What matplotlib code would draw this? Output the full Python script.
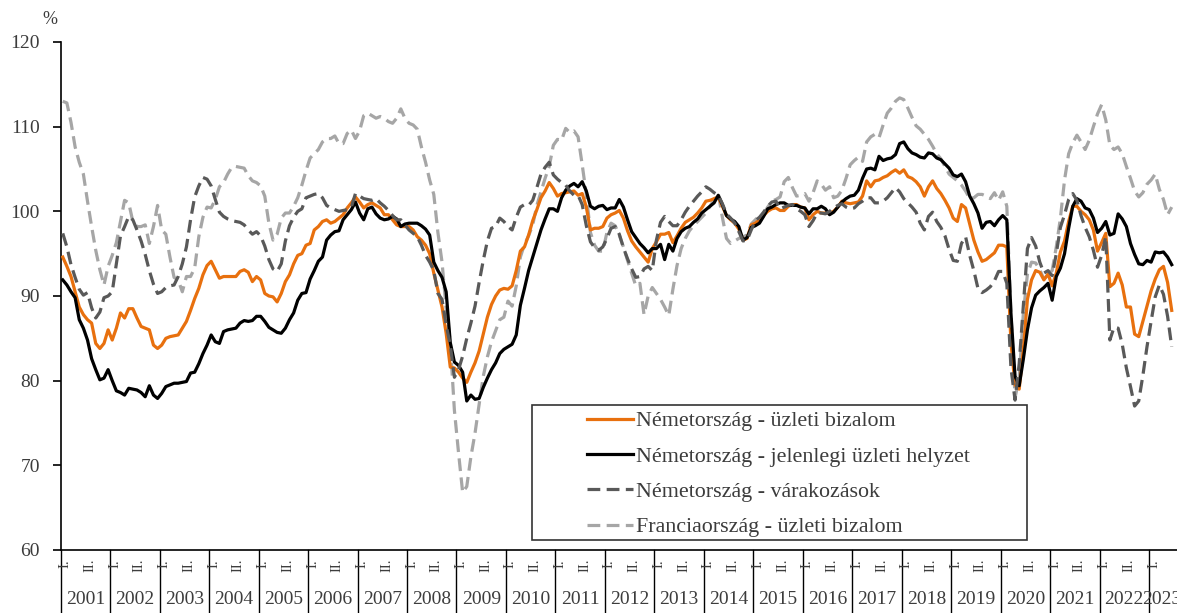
import numpy as np
import matplotlib
matplotlib.use("Agg")
import matplotlib.pyplot as plt
import matplotlib.transforms as mtransforms
from matplotlib.patches import Rectangle

# ---------------- data (monthly, Jan 2001 - Jun 2023) ----------------
years = list(range(2001, 2024))
half_labels = ["I.", "II."]
series_names = ["Németország - üzleti bizalom",
                "Németország - jelenlegi üzleti helyzet",
                "Németország - várakozások",
                "Franciaország - üzleti bizalom"]

de_climate = [
    94.6, 93.5, 92.3, 90.5, 88.7, 87.8, 87.2, 86.8, 84.4, 83.8, 84.4, 86.0,
    84.8, 86.2, 88.0, 87.4, 88.5, 88.5, 87.4, 86.4, 86.2, 86.0, 84.2, 83.8,
    84.2, 85.0, 85.2, 85.3, 85.4, 86.2, 87.0, 88.3, 89.7, 90.9, 92.5, 93.6,
    94.1, 93.1, 92.1, 92.3, 92.3, 92.3, 92.3, 92.9, 93.1, 92.8, 91.7, 92.3,
    91.9, 90.3, 90.0, 89.9, 89.3, 90.3, 91.7, 92.5, 93.8, 94.8, 95.0, 96.0,
    96.2, 97.8, 98.2, 98.8, 99.0, 98.6, 98.8, 99.2, 99.6, 100.4, 101.0, 101.7,
    101.1, 100.4, 100.8, 101.0, 100.7, 100.4, 99.6, 99.6, 99.0, 98.4, 98.2, 98.2,
    98.2, 97.8, 97.0, 96.6, 96.0, 95.0, 92.7, 90.7, 88.7, 85.6, 81.6, 81.5,
    81.0, 80.3, 79.8, 81.0, 82.1, 83.5, 85.5, 87.5, 89.0, 90.0, 90.7, 90.9,
    90.8, 91.2, 93.0, 95.3, 95.8, 97.2, 98.9, 100.2, 101.6, 102.4, 103.4, 102.7,
    101.8, 102.1, 102.2, 102.3, 102.4, 101.9, 102.1, 100.5, 97.8, 98.0, 98.0, 98.2,
    99.2, 99.6, 99.8, 100.1, 99.2, 97.7, 96.5, 95.8, 95.2, 94.6, 94.0, 95.6,
    96.4, 97.3, 97.3, 97.5, 96.3, 97.1, 98.0, 98.7, 99.0, 99.3, 99.8, 100.4,
    101.2, 101.3, 101.5, 101.7, 100.6, 99.5, 99.0, 98.6, 97.9, 96.6, 96.8, 98.4,
    98.6, 99.0, 99.5, 100.0, 100.3, 100.4, 100.1, 100.1, 100.6, 100.8, 100.8, 100.5,
    100.4, 99.0, 99.6, 100.0, 99.8, 99.8, 99.8, 100.0, 100.5, 101.2, 101.0, 100.9,
    101.0, 101.1, 101.8, 103.6, 102.9, 103.6, 103.7, 104.0, 104.2, 104.6, 104.9, 104.5,
    104.9, 104.1, 103.9, 103.5, 102.9, 101.8, 102.9, 103.6, 102.7, 102.1, 101.3, 100.4,
    99.2, 98.8, 100.8, 100.4, 98.5, 96.6, 95.2, 94.1, 94.3, 94.7, 95.1, 96.0,
    96.0, 95.8, 84.5, 79.5, 79.0, 83.6, 89.6, 91.9, 93.0, 92.8, 91.9, 92.6,
    91.2, 92.7, 95.2, 96.5, 98.8, 100.6, 100.6, 100.0, 99.6, 99.0, 97.8, 95.3,
    96.3, 97.4, 91.1, 91.5, 92.7, 91.3, 88.7, 88.7, 85.5, 85.2, 87.0, 88.8,
    90.6, 92.0, 93.1, 93.5, 91.6, 88.3,
]

de_current = [
    91.9, 91.3, 90.5, 89.8, 87.2, 86.2, 84.8, 82.6, 81.3, 80.1, 80.3, 81.3,
    80.0, 78.8, 78.6, 78.3, 79.1, 79.0, 78.9, 78.6, 78.1, 79.4, 78.3, 77.9,
    78.5, 79.3, 79.5, 79.7, 79.7, 79.8, 79.9, 80.9, 81.0, 82.0, 83.2, 84.2,
    85.4, 84.6, 84.4, 85.8, 86.0, 86.1, 86.2, 86.8, 87.1, 87.0, 87.1, 87.6,
    87.6, 87.0, 86.3, 86.0, 85.7, 85.6, 86.2, 87.2, 88.0, 89.5, 90.3, 90.4,
    92.0, 93.0, 94.1, 94.6, 96.6, 97.2, 97.6, 97.7, 99.0, 99.6, 100.2, 101.1,
    99.8, 99.0, 100.3, 100.5, 99.7, 99.2, 99.0, 99.1, 99.4, 99.1, 98.2, 98.5,
    98.6, 98.6, 98.6, 98.3, 97.9, 97.2, 94.0, 93.0, 92.2, 90.5, 84.5, 82.2,
    81.8, 81.0, 77.6, 78.3, 77.8, 77.9, 79.2, 80.3, 81.3, 82.1, 83.2, 83.7,
    84.0, 84.3, 85.4, 88.9, 90.9, 93.0, 94.6, 96.2, 97.8, 99.1, 100.3, 100.3,
    100.0, 101.6, 102.5, 103.0, 103.3, 102.9, 103.5, 102.4, 100.6, 100.3, 100.6, 100.7,
    100.2, 100.4, 100.4, 101.4, 100.5, 99.0, 97.6, 96.9, 96.2, 95.7, 95.1, 95.6,
    95.6, 96.1, 94.3, 96.1, 95.3, 96.8, 97.6, 98.0, 98.2, 98.7, 99.1, 99.8,
    100.2, 100.6, 101.0, 101.9, 100.8, 99.5, 99.1, 98.8, 98.2, 96.6, 96.9, 98.1,
    98.3, 98.6, 99.4, 100.3, 100.5, 100.8, 101.0, 101.0, 100.7, 100.7, 100.7, 100.5,
    100.4, 99.7, 100.3, 100.3, 100.6, 100.3, 99.6, 99.9, 100.5, 101.1, 101.5, 101.8,
    101.9, 102.5, 103.9, 105.0, 105.1, 104.9, 106.5, 106.0, 106.2, 106.3, 106.7, 108.0,
    108.2, 107.4, 106.9, 106.7, 106.4, 106.3, 106.9, 106.8, 106.3, 106.1, 105.6, 105.1,
    104.3, 104.1, 104.4, 103.5, 101.8, 100.9, 99.8, 98.0, 98.7, 98.8, 98.3, 99.0,
    99.5, 99.0, 88.0, 80.5, 79.4, 82.5, 86.0, 88.6, 90.1, 90.6, 91.0, 91.5,
    89.5, 92.3, 93.3, 95.0, 98.0, 100.6, 101.5, 101.2, 100.4, 100.2, 99.2, 97.5,
    98.0, 98.8, 97.2, 97.4, 99.7, 99.1, 98.2, 96.2, 94.9, 93.8, 93.7, 94.2,
    94.0, 95.2, 95.1, 95.2, 94.6, 93.7,
]

de_expect = [
    97.4, 95.8, 93.7, 92.2, 90.8, 90.1, 90.4, 88.6, 87.4, 88.1, 89.8, 90.0,
    90.5, 93.8, 97.1, 98.2, 99.4, 99.0, 97.8, 96.5, 94.9, 93.0, 91.4, 90.3,
    90.5, 91.0, 91.2, 91.3, 92.3, 93.8, 95.8, 99.0, 101.7, 103.0, 104.0, 103.8,
    103.0, 101.4, 99.9, 99.4, 99.1, 98.9, 98.8, 98.7, 98.4, 97.8, 97.3, 97.6,
    97.1, 95.9, 94.3, 93.2, 92.9, 93.8, 96.5, 98.3, 99.3, 100.0, 100.3, 101.6,
    101.8, 102.0, 102.1, 101.6, 100.7, 100.4, 100.2, 100.0, 100.1, 100.2, 100.5, 102.1,
    101.8, 101.5, 101.4, 101.3, 101.5, 101.0, 100.6, 100.1, 99.5, 99.0, 99.0, 98.4,
    97.8, 97.4, 97.0, 96.0, 94.8, 94.0, 93.0, 90.3, 89.6, 86.6, 84.2, 80.4,
    81.3, 82.9, 85.0, 86.8, 88.8, 91.6, 94.2, 96.5, 98.0, 98.2, 99.2, 98.8,
    98.2, 97.8, 99.3, 100.5, 100.8, 100.7, 101.3, 102.8, 104.4, 105.2, 105.8, 104.3,
    103.8, 103.4, 103.1, 102.4, 101.9, 101.9, 100.8, 98.3, 96.4, 95.7, 95.4, 95.8,
    96.8, 98.0, 98.2, 97.3, 95.7, 94.4, 93.2, 92.2, 92.3, 93.2, 93.5, 93.0,
    96.6, 98.7, 99.4, 98.8, 98.3, 98.3, 99.0, 99.9, 100.6, 101.2, 101.8, 102.3,
    102.9, 102.6, 102.2, 101.9, 100.9, 99.7, 99.2, 98.6, 97.6, 96.5, 96.6, 97.8,
    98.9, 99.3, 99.9, 100.6, 101.1, 101.2, 100.3, 100.5, 100.7, 100.8, 100.3, 100.0,
    99.6, 98.2, 98.9, 99.8, 99.8, 99.7, 100.0, 100.4, 100.7, 100.9, 100.5, 100.3,
    100.4, 100.9, 101.2, 101.6, 101.6, 101.0, 101.0, 101.2, 101.6, 102.2, 102.8, 102.3,
    101.5, 101.0, 100.5, 99.9, 98.6, 97.8, 99.4, 99.9, 98.8, 98.1, 97.1, 95.5,
    94.2, 94.1, 96.2, 97.0, 94.8, 93.0, 90.9, 90.4, 90.7, 91.1, 91.8, 92.9,
    92.9, 91.5, 81.5, 77.7, 82.0, 88.8, 95.6, 96.9, 95.9, 94.0, 92.7, 93.0,
    92.4, 95.0, 98.1, 99.6, 101.4, 102.1, 101.3, 99.5, 98.1, 97.0, 95.4, 93.4,
    94.8, 97.0, 84.8, 86.3, 86.2, 84.3, 81.5, 79.3, 77.0, 77.6, 80.6, 84.0,
    87.0, 89.9, 91.3, 90.2, 87.6, 84.0,
]

fr_climate = [
    113.0, 112.8, 110.5, 107.6, 105.8, 104.4, 101.2, 98.2, 95.4, 93.1, 91.3, 93.5,
    94.8, 96.3, 98.8, 101.3, 101.0, 98.8, 98.2, 98.2, 98.4, 96.2, 98.2, 100.7,
    97.8, 97.3, 94.6, 92.2, 91.9, 90.5, 92.3, 92.3, 93.3, 97.0, 99.3, 100.5,
    100.4, 101.4, 102.9, 103.4, 104.4, 105.2, 105.3, 105.2, 105.1, 104.2, 103.6, 103.4,
    103.0, 101.8, 98.6, 96.6, 97.3, 99.2, 99.8, 99.8, 100.6, 101.6, 103.1, 104.8,
    106.3, 106.8, 107.3, 108.2, 108.6, 108.6, 108.9, 108.0, 108.0, 109.2, 109.6, 108.6,
    109.5, 111.3, 111.6, 111.3, 111.0, 111.2, 111.0, 110.6, 110.4, 111.0, 112.1, 111.0,
    110.4, 110.2, 109.7, 107.6, 105.8, 103.7, 102.0, 97.5, 94.0, 88.5, 84.5, 76.5,
    71.5, 66.8, 67.5, 71.0, 73.8, 77.2, 80.5, 82.8, 84.6, 85.9, 87.2, 87.5,
    89.4, 88.8, 91.2, 94.6, 96.1, 97.1, 98.4, 100.7, 102.3, 103.9, 105.3, 107.8,
    108.5, 108.4, 109.8, 109.3, 109.5, 108.8, 105.5, 102.0, 97.5, 96.0, 95.3, 95.3,
    97.5, 98.6, 98.3, 97.2, 95.8, 94.2, 92.7, 91.2, 91.5, 87.8, 90.0, 91.0,
    90.3, 89.6, 88.7, 87.7, 90.8, 93.6, 95.6, 96.8, 97.7, 98.3, 98.8, 99.3,
    99.8, 100.6, 101.4, 102.1, 99.3, 96.8, 96.2, 96.5, 96.8, 97.0, 97.2, 98.5,
    99.0, 99.5, 99.7, 100.5, 101.2, 101.4, 101.7, 103.5, 104.0, 102.8, 101.8, 101.9,
    102.1, 101.2, 102.2, 103.6, 103.2, 102.5, 102.9, 101.6, 101.8, 102.5, 103.9, 105.5,
    106.0, 106.4, 105.9, 108.2, 108.8, 109.1, 108.7, 110.2, 111.6, 112.2, 113.0, 113.4,
    113.2, 112.2, 111.1, 110.1, 109.7, 109.1, 108.5, 107.7, 106.8, 106.2, 105.3, 104.4,
    104.0, 103.6, 103.1, 102.4, 101.5, 101.6, 102.0, 102.0, 101.8, 101.5, 102.2, 101.3,
    102.3, 100.6, 88.0, 78.0, 80.3, 87.9, 92.6, 94.0, 93.9, 93.1, 92.0, 92.5,
    93.0, 95.8, 99.2, 103.7, 106.8, 108.1, 109.0, 108.2, 107.3, 108.4, 110.0, 111.5,
    112.6, 110.8, 107.8, 107.3, 107.6, 106.8, 105.3, 103.9, 102.4, 101.7, 102.2, 103.2,
    103.7, 104.4, 102.6, 101.4, 99.6, 100.5,
]

# ---------------- figure ----------------
plt.rcParams['font.family'] = ['Liberation Serif', 'DejaVu Serif']
TXT = '#3c3c3c'

W, H = 1177, 613
fig = plt.figure(figsize=(W / 100, H / 100), dpi=100)
L_PX, B_PX, T_PX = 60.7, 550, 42
ax = fig.add_axes([L_PX / W, (H - B_PX) / H, 1 - L_PX / W, (B_PX - T_PX) / H])

N = len(de_climate)
x = np.arange(N) + 0.5
px_per_month = 4.1225
ax.set_xlim(0, (W - L_PX) / px_per_month)
ax.set_ylim(60, 120)

lw = 2.3
ax.plot(x, de_climate, color='#E8700E', lw=lw, solid_joinstyle='round', label=series_names[0], zorder=3)
ax.plot(x, de_current, color='#000000', lw=lw, solid_joinstyle='round', label=series_names[1], zorder=4)
ax.plot(x, de_expect, color='#595959', lw=lw, dashes=(4, 2), dash_capstyle='butt', label=series_names[2], zorder=5)
ax.plot(x, fr_climate, color='#A6A6A6', lw=lw, dashes=(4, 2), dash_capstyle='butt', label=series_names[3], zorder=2)

for s in ['top', 'right']:
    ax.spines[s].set_visible(False)
for s in ['left', 'bottom']:
    ax.spines[s].set_color('black')
    ax.spines[s].set_linewidth(1.2)

ax.set_yticks(range(60, 121, 10))
ax.tick_params(axis='y', direction='out', length=6, width=1.2, labelsize=14,
               labelcolor=TXT, pad=9)
ax.set_xticks([])

# x-axis: year separators, year labels and half-year labels
trans = mtransforms.blended_transform_factory(ax.transData, ax.transAxes)
plot_h = B_PX - T_PX
for k, yr in enumerate(years):
    xs = 12 * k
    ax.plot([xs, xs], [0, -(H - B_PX) / plot_h], transform=trans, color='black',
            lw=1.0, clip_on=False)
    n_months = min(12, N - xs)
    ax.text(xs + n_months / 2, -50 / plot_h, str(yr), transform=trans, ha='center',
            va='center', fontsize=14, color=TXT, clip_on=False)
    for j, lab in zip((0, 6), half_labels):
        m = xs + j
        if m < N:
            ax.text(m + 0.5 + 0.6, -9 / plot_h, lab, transform=trans, rotation=90,
                    ha='center', va='top', fontsize=10.5, color=TXT, clip_on=False)

fig.text(50 / W, 1 - 19 / H, '%', ha='center', va='center', fontsize=13, color=TXT)

# legend box
box = Rectangle((532 / W, 1 - 540 / H), 495 / W, 135 / H, transform=fig.transFigure,
                facecolor='white', edgecolor='#333333', lw=1.2, zorder=10)
fig.patches.append(box)
handles, labels = ax.get_legend_handles_labels()
leg = fig.legend(handles, labels, loc='upper left', bbox_to_anchor=(587 / W, 1 - 411 / H),
                 bbox_transform=fig.transFigure, frameon=False, fontsize=15.8,
                 handlelength=2.1, handletextpad=0.14, labelspacing=0.68,
                 borderpad=0, borderaxespad=0)
leg.set_zorder(11)
for t in leg.get_texts():
    t.set_color(TXT)

fig.savefig('out.png', dpi=100)
